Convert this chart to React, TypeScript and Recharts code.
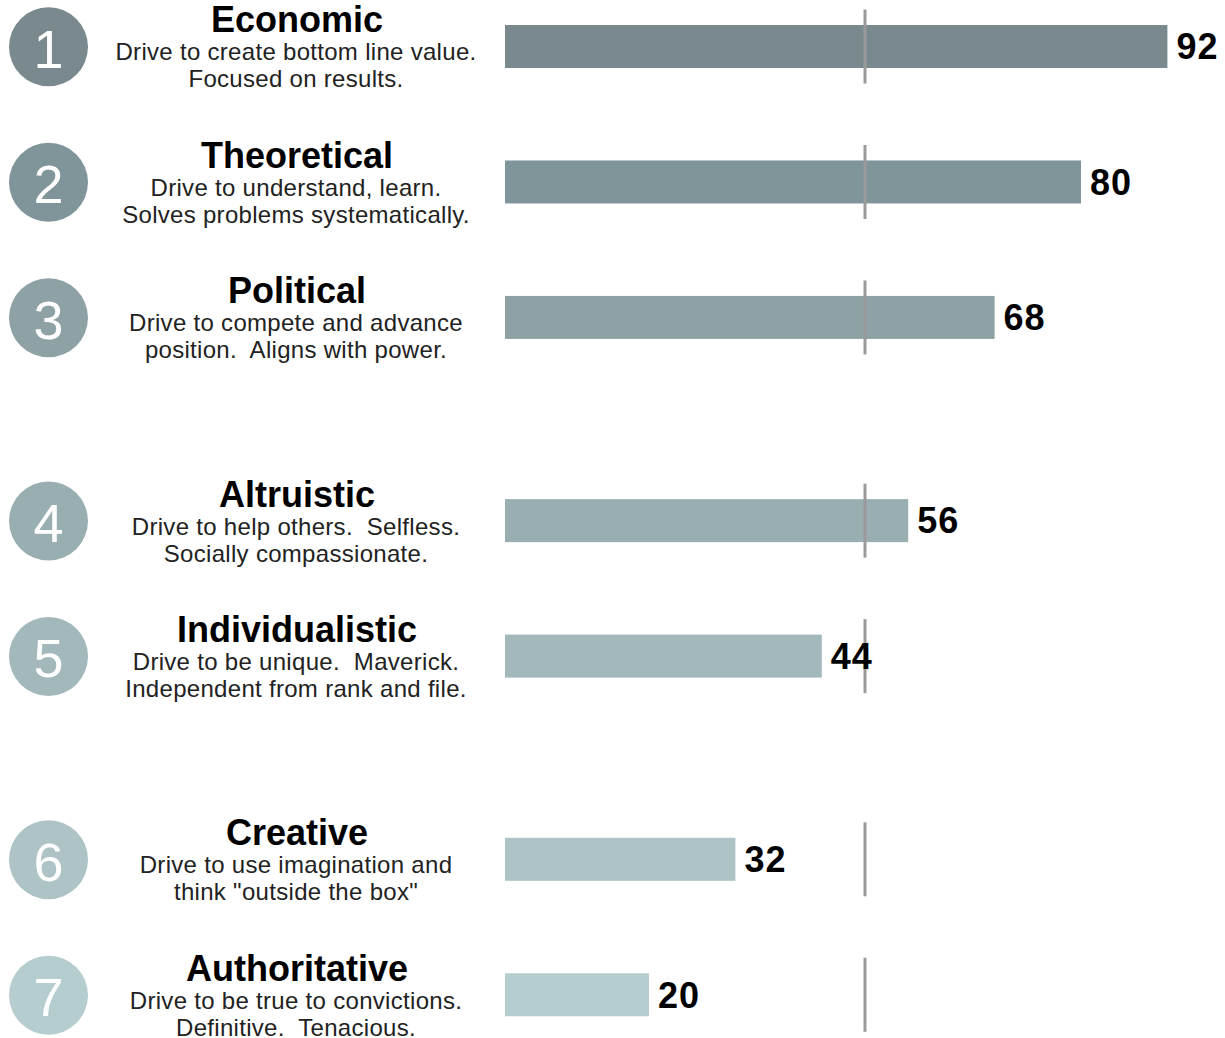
import React from 'react';
import { BarChart, Bar, XAxis, YAxis, Cell, LabelList } from 'recharts';

const names = ['Economic', 'Theoretical', 'Political', 'Altruistic', 'Individualistic', 'Creative', 'Authoritative'];
const descLine1 = [
  'Drive to create bottom line value.',
  'Drive to understand, learn.',
  'Drive to compete and advance',
  'Drive to help others.  Selfless.',
  'Drive to be unique.  Maverick.',
  'Drive to use imagination and',
  'Drive to be true to convictions.',
];
const descLine2 = [
  'Focused on results.',
  'Solves problems systematically.',
  'position.  Aligns with power.',
  'Socially compassionate.',
  'Independent from rank and file.',
  'think "outside the box"',
  'Definitive.  Tenacious.',
];
const scores = [92, 80, 68, 56, 44, 32, 20];
// half-row slots, so the gaps between groups come out of the band scale
const slots = [0, 2, 4, 7, 9, 12, 14];
const colors = ['#79898e', '#80959a', '#8ea2a6', '#99aeb1', '#a3b8bb', '#adc3c5', '#b5cdcf'];
const REF_VALUE = 50;
const SLOT_COUNT = 15;

const FONT = '"Liberation Sans", Arial, sans-serif';

const rows = Array.from({ length: SLOT_COUNT }, (_, i) => {
  const idx = slots.indexOf(i);
  return {
    slot: `s${i}`,
    idx,
    score: idx >= 0 ? scores[idx] : null,
  };
});

const descStyle = { whiteSpace: 'pre' as const, letterSpacing: 0.3 };

const RowTick = (props: any) => {
  const { y, payload } = props;
  const row = rows.find((r) => r.slot === payload.value);
  if (!row || row.idx < 0) return null;
  const i = row.idx;
  return (
    <g fontFamily={FONT}>
      <circle cx={48.5} cy={y} r={39.5} fill={colors[i]} />
      <text x={48.5} y={y + 2} textAnchor="middle" dominantBaseline="central" fontSize={54} fill="#fff">
        {i + 1}
      </text>
      <text x={297} y={y - 27} textAnchor="middle" dominantBaseline="central" fontSize={36} fontWeight="bold" fill="#000">
        {names[i]}
      </text>
      <text x={296} y={y + 5} textAnchor="middle" dominantBaseline="central" fontSize={24} fill="#222" style={descStyle}>
        {descLine1[i]}
      </text>
      <text x={296} y={y + 32} textAnchor="middle" dominantBaseline="central" fontSize={24} fill="#222" style={descStyle}>
        {descLine2[i]}
      </text>
    </g>
  );
};

// bar plus the short grey marker at the reference value
const MarkedBar = (props: any) => {
  const { x, y, width, height, fill, payload } = props;
  if (payload == null || payload.score == null) return null;
  const refX = x + (width * REF_VALUE) / payload.score;
  const cy = y + height / 2;
  return (
    <g>
      <rect x={x} y={y} width={width} height={height} fill={fill} />
      <line x1={refX} x2={refX} y1={cy - 37} y2={cy + 37} stroke="#9a9a9a" strokeWidth={3} />
    </g>
  );
};

export default function App() {
  return (
    <div style={{ position: 'absolute', left: 0, top: 0, background: '#fff' }}>
      <BarChart
        width={1225}
        height={1038}
        data={rows}
        layout="vertical"
        margin={{ top: 13, right: 0, bottom: 9, left: 0 }}
        barCategoryGap={0}
      >
        <XAxis type="number" domain={[0, 100]} hide />
        <YAxis
          type="category"
          dataKey="slot"
          width={505}
          axisLine={false}
          tickLine={false}
          interval={0}
          tick={<RowTick />}
        />
        <Bar dataKey="score" barSize={43} shape={<MarkedBar />} isAnimationActive={false}>
          {rows.map((r) => (
            <Cell key={r.slot} fill={r.idx >= 0 ? colors[r.idx] : 'none'} />
          ))}
          <LabelList
            dataKey="score"
            position="right"
            offset={9}
            style={{ fontSize: 36, fontWeight: 'bold', fill: '#000', fontFamily: FONT, letterSpacing: 1 }}
          />
        </Bar>
      </BarChart>
    </div>
  );
}
